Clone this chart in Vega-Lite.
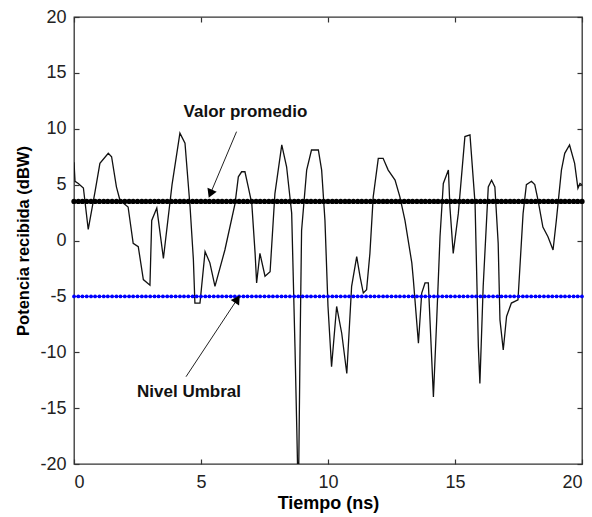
{
  "$schema": "https://vega.github.io/schema/vega-lite/v6.json",
  "width": 508,
  "height": 447,
  "autosize": {"type": "none"},
  "padding": {"left": 74, "top": 17, "right": 10, "bottom": 53},
  "background": "white",
  "config": {
    "font": "Liberation Sans",
    "view": {"stroke": "#333", "strokeWidth": 1.3},
    "axis": {
      "grid": false,
      "domain": false,
      "ticks": true,
      "tickSize": -5,
      "tickColor": "#333",
      "tickWidth": 1.2,
      "labelFont": "Liberation Sans",
      "labelFontSize": 18,
      "labelColor": "#222",
      "titleFont": "Liberation Sans",
      "titleFontWeight": "bold",
      "titleColor": "#000"
    }
  },
  "datasets": {
    "sig": [
      {"t":0,"p":7.0},{"t":0.04,"p":5.3},{"t":0.17,"p":5.1},{"t":0.37,"p":4.7},{"t":0.56,"p":1.0},{"t":0.83,"p":4.4},{"t":1.02,"p":6.9},{"t":1.35,"p":7.8},{"t":1.48,"p":7.5},{"t":1.67,"p":4.8},{"t":1.81,"p":3.6},{"t":2.13,"p":3.0},{"t":2.33,"p":-0.25},{"t":2.53,"p":-0.55},{"t":2.73,"p":-3.5},{"t":2.99,"p":-4.0},{"t":3.06,"p":1.8},{"t":3.26,"p":2.9},{"t":3.52,"p":-1.6},{"t":3.86,"p":5.0},{"t":4.17,"p":9.6},{"t":4.37,"p":8.7},{"t":4.57,"p":3.0},{"t":4.70,"p":-1.7},{"t":4.76,"p":-5.6},{"t":4.96,"p":-5.6},{"t":5.16,"p":-1.0},{"t":5.35,"p":-2.0},{"t":5.55,"p":-4.1},{"t":5.94,"p":-0.85},{"t":6.34,"p":3.3},{"t":6.47,"p":5.7},{"t":6.60,"p":6.15},{"t":6.73,"p":6.15},{"t":6.86,"p":4.8},{"t":7.0,"p":3.3},{"t":7.13,"p":-1.15},{"t":7.19,"p":-3.8},{"t":7.32,"p":-1.15},{"t":7.52,"p":-3.2},{"t":7.72,"p":-2.8},{"t":7.91,"p":4.2},{"t":8.18,"p":8.55},{"t":8.37,"p":6.6},{"t":8.57,"p":2.45},{"t":8.70,"p":-9.5},{"t":8.77,"p":-16.7},{"t":8.80,"p":-20},{"t":8.85,"p":-20},{"t":8.90,"p":-9.5},{"t":8.96,"p":0.9},{"t":9.16,"p":6.3},{"t":9.35,"p":8.1},{"t":9.62,"p":8.1},{"t":9.75,"p":6.3},{"t":9.88,"p":1.8},{"t":10.0,"p":-5.9},{"t":10.14,"p":-11.3},{"t":10.34,"p":-5.9},{"t":10.54,"p":-8.3},{"t":10.74,"p":-11.9},{"t":10.93,"p":-4.1},{"t":11.13,"p":-1.45},{"t":11.26,"p":-3.2},{"t":11.39,"p":-4.7},{"t":11.52,"p":-4.4},{"t":11.65,"p":-1.15},{"t":11.78,"p":3.9},{"t":11.98,"p":7.35},{"t":12.17,"p":7.35},{"t":12.37,"p":6.3},{"t":12.64,"p":5.4},{"t":12.83,"p":3.9},{"t":13.03,"p":1.8},{"t":13.30,"p":-2.0},{"t":13.36,"p":-3.5},{"t":13.56,"p":-9.2},{"t":13.69,"p":-4.7},{"t":13.82,"p":-3.8},{"t":13.95,"p":-3.8},{"t":14.15,"p":-14.0},{"t":14.28,"p":-7.1},{"t":14.41,"p":0.34},{"t":14.54,"p":5.1},{"t":14.74,"p":6.3},{"t":14.80,"p":3.0},{"t":14.93,"p":-1.15},{"t":15.13,"p":2.4},{"t":15.39,"p":9.3},{"t":15.59,"p":9.45},{"t":15.79,"p":3.3},{"t":15.92,"p":-9.5},{"t":15.98,"p":-12.8},{"t":16.11,"p":-4.1},{"t":16.31,"p":4.8},{"t":16.44,"p":5.4},{"t":16.57,"p":4.8},{"t":16.70,"p":-0.25},{"t":16.77,"p":-7.1},{"t":16.90,"p":-9.8},{"t":17.03,"p":-6.8},{"t":17.22,"p":-5.6},{"t":17.48,"p":-5.3},{"t":17.68,"p":2.4},{"t":17.81,"p":5.0},{"t":18.01,"p":5.3},{"t":18.14,"p":5.0},{"t":18.27,"p":3.6},{"t":18.46,"p":1.2},{"t":18.66,"p":0.34},{"t":18.86,"p":-0.85},{"t":18.99,"p":1.8},{"t":19.19,"p":6.3},{"t":19.32,"p":7.8},{"t":19.51,"p":8.55},{"t":19.71,"p":6.9},{"t":19.84,"p":4.67},{"t":19.92,"p":5.1},{"t":20,"p":5.0}
    ],
    "lvl": [
      {"t":0},{"t":0.17},{"t":0.33},{"t":0.5},{"t":0.67},{"t":0.83},
      {"t":1},{"t":1.17},{"t":1.33},{"t":1.5},{"t":1.67},{"t":1.83},
      {"t":2},{"t":2.17},{"t":2.33},{"t":2.5},{"t":2.67},{"t":2.83},
      {"t":3},{"t":3.17},{"t":3.33},{"t":3.5},{"t":3.67},{"t":3.83},
      {"t":4},{"t":4.17},{"t":4.33},{"t":4.5},{"t":4.67},{"t":4.83},
      {"t":5},{"t":5.17},{"t":5.33},{"t":5.5},{"t":5.67},{"t":5.83},
      {"t":6},{"t":6.17},{"t":6.33},{"t":6.5},{"t":6.67},{"t":6.83},
      {"t":7},{"t":7.17},{"t":7.33},{"t":7.5},{"t":7.67},{"t":7.83},
      {"t":8},{"t":8.17},{"t":8.33},{"t":8.5},{"t":8.67},{"t":8.83},
      {"t":9},{"t":9.17},{"t":9.33},{"t":9.5},{"t":9.67},{"t":9.83},
      {"t":10},{"t":10.17},{"t":10.33},{"t":10.5},{"t":10.67},{"t":10.83},
      {"t":11},{"t":11.17},{"t":11.33},{"t":11.5},{"t":11.67},{"t":11.83},
      {"t":12},{"t":12.17},{"t":12.33},{"t":12.5},{"t":12.67},{"t":12.83},
      {"t":13},{"t":13.17},{"t":13.33},{"t":13.5},{"t":13.67},{"t":13.83},
      {"t":14},{"t":14.17},{"t":14.33},{"t":14.5},{"t":14.67},{"t":14.83},
      {"t":15},{"t":15.17},{"t":15.33},{"t":15.5},{"t":15.67},{"t":15.83},
      {"t":16},{"t":16.17},{"t":16.33},{"t":16.5},{"t":16.67},{"t":16.83},
      {"t":17},{"t":17.17},{"t":17.33},{"t":17.5},{"t":17.67},{"t":17.83},
      {"t":18},{"t":18.17},{"t":18.33},{"t":18.5},{"t":18.67},{"t":18.83},
      {"t":19},{"t":19.17},{"t":19.33},{"t":19.5},{"t":19.67},{"t":19.83},
      {"t":20}
    ],
    "arr": [
      {"t1":6.4,"p1":9.74,"t2":5.37,"p2":4.19},
      {"t1":4.41,"p1":-12.19,"t2":6.43,"p2":-5.25}
    ],
    "heads": [
      {"t":5.37,"p":4.19,"ang":203},
      {"t":6.43,"p":-5.25,"ang":33.5}
    ],
    "ann": [
      {"t":6.75,"p":11.5,"label":"Valor promedio"},
      {"t":4.53,"p":-13.56,"label":"Nivel Umbral"}
    ]
  },
  "resolve": {"axis": {"x": "independent", "y": "independent"}},
  "layer": [
    {
      "data": {"name": "sig"},
      "mark": {"type": "line", "color": "#111", "strokeWidth": 1.3, "clip": true},
      "encoding": {
        "x": {"field": "t", "type": "quantitative", "scale": {"domain": [0, 20], "nice": false},
              "axis": {"orient": "bottom", "values": [0,5,10,15,20], "title": "Tiempo (ns)", "titleFontSize": 18, "labelPadding": 14, "titlePadding": 3}},
        "y": {"field": "p", "type": "quantitative", "scale": {"domain": [-20, 20], "nice": false},
              "axis": {"orient": "left", "values": [-20,-15,-10,-5,0,5,10,15,20], "labelExpr": "'' + datum.value", "title": "Potencia recibida (dBW)", "titleFontSize": 16.5, "labelPadding": 13, "titlePadding": 8}}
      }
    },
    {
      "data": {"name": "lvl"},
      "mark": {"type": "line", "color": "#000", "strokeWidth": 2, "point": {"filled": true, "size": 28, "color": "#000"}},
      "encoding": {
        "x": {"field": "t", "type": "quantitative",
              "axis": {"orient": "top", "values": [0,5,10,15,20], "labels": false, "title": null}},
        "y": {"datum": 3.5, "type": "quantitative",
              "axis": {"orient": "right", "values": [-20,-15,-10,-5,0,5,10,15,20], "labels": false, "title": null}}
      }
    },
    {
      "data": {"name": "lvl"},
      "mark": {"type": "line", "color": "#0000ff", "strokeWidth": 1, "point": {"filled": true, "size": 14, "color": "#0000ff"}},
      "encoding": {
        "x": {"field": "t", "type": "quantitative", "axis": null},
        "y": {"datum": -5, "type": "quantitative", "axis": null}
      }
    },
    {
      "data": {"name": "arr"},
      "mark": {"type": "rule", "color": "#222", "strokeWidth": 1},
      "encoding": {
        "x": {"field": "t1", "type": "quantitative", "axis": null},
        "y": {"field": "p1", "type": "quantitative", "axis": null},
        "x2": {"field": "t2"},
        "y2": {"field": "p2"}
      }
    },
    {
      "data": {"name": "heads"},
      "mark": {"type": "point", "shape": "triangle-up", "filled": true, "color": "#000", "size": 100, "opacity": 1},
      "encoding": {
        "x": {"field": "t", "type": "quantitative", "axis": null},
        "y": {"field": "p", "type": "quantitative", "axis": null},
        "angle": {"field": "ang", "type": "quantitative", "scale": null}
      }
    },
    {
      "data": {"name": "ann"},
      "mark": {"type": "text", "fontSize": 17, "fontWeight": "bold", "color": "#111", "font": "Liberation Sans"},
      "encoding": {
        "x": {"field": "t", "type": "quantitative", "axis": null},
        "y": {"field": "p", "type": "quantitative", "axis": null},
        "text": {"field": "label"}
      }
    }
  ]
}
